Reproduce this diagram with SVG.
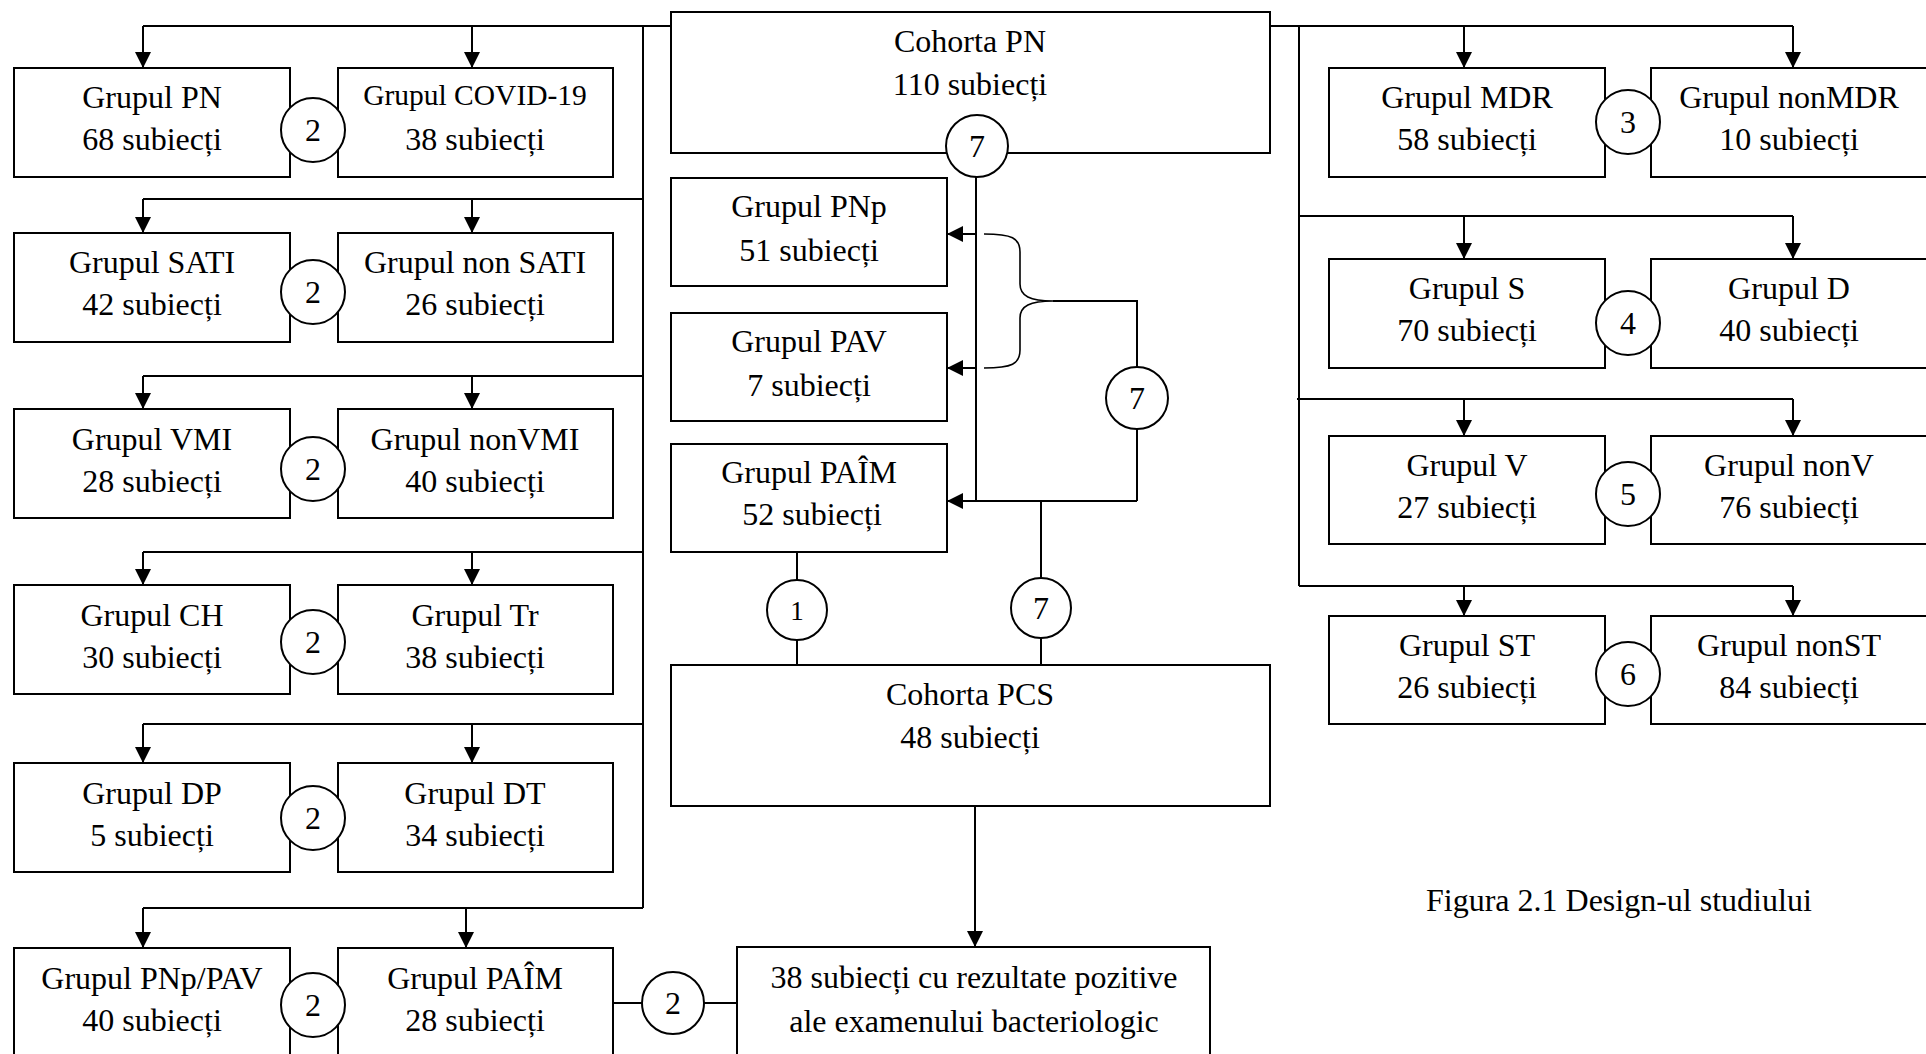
<svg xmlns="http://www.w3.org/2000/svg" width="1926" height="1054" viewBox="0 0 1926 1054">
<style>
.box{fill:#fff;stroke:#000;stroke-width:2}
.c{fill:#fff;stroke:#000;stroke-width:2}
.ln{fill:none;stroke:#000;stroke-width:2}
.br{fill:none;stroke:#000;stroke-width:1.6}
.ar{fill:none;stroke:#000;stroke-width:2;marker-end:url(#arr)}
text{font-family:"Liberation Serif","Times New Roman",serif;font-size:32px;fill:#000;text-anchor:middle}
.cap{text-anchor:start}
.sm{font-size:29.5px}
.one{font-size:27px}
</style>
<defs>
<marker id="arr" markerWidth="16" markerHeight="16" refX="16" refY="8" orient="auto" markerUnits="userSpaceOnUse">
<path d="M0,0 L16,8 L0,16 z" fill="#000"/>
</marker>
</defs>
<rect width="1926" height="1054" fill="#fff"/>

<g id="connectors">
<!-- left trunk -->
<path class="ln" d="M671,26 H143 M643,26 V908"/>
<path class="ar" d="M143,26 V68"/>
<path class="ar" d="M472,26 V68"/>
<path class="ln" d="M643,199 H143"/>
<path class="ar" d="M143,199 V233"/>
<path class="ar" d="M472,199 V233"/>
<path class="ln" d="M643,376 H143"/>
<path class="ar" d="M143,376 V409"/>
<path class="ar" d="M472,376 V409"/>
<path class="ln" d="M643,552 H143"/>
<path class="ar" d="M143,552 V585"/>
<path class="ar" d="M472,552 V585"/>
<path class="ln" d="M643,724 H143"/>
<path class="ar" d="M143,724 V763"/>
<path class="ar" d="M472,724 V763"/>
<path class="ln" d="M643,908 H143"/>
<path class="ar" d="M143,908 V948"/>
<path class="ar" d="M466,908 V948"/>
<!-- right trunk -->
<path class="ln" d="M1269,26 H1793 M1299,26 V586"/>
<path class="ar" d="M1464,26 V68"/>
<path class="ar" d="M1793,26 V68"/>
<path class="ln" d="M1299,216 H1793"/>
<path class="ar" d="M1464,216 V259"/>
<path class="ar" d="M1793,216 V259"/>
<path class="ln" d="M1297,399 H1793"/>
<path class="ar" d="M1464,399 V436"/>
<path class="ar" d="M1793,399 V436"/>
<path class="ln" d="M1299,586 H1793"/>
<path class="ar" d="M1464,586 V616"/>
<path class="ar" d="M1793,586 V616"/>
<!-- center -->
<path class="ln" d="M976,177 V501"/>
<path class="ar" d="M976,234 H947"/>
<path class="ar" d="M976,368 H947"/>
<path class="ar" d="M1137,501 H947"/>
<path class="br" d="M984,234 C1012,234 1020,238 1020,252 L1020,284 C1020,296 1030,301 1053,301 C1030,301 1020,306 1020,318 L1020,350 C1020,364 1012,368 984,368"/>
<path class="ln" d="M1053,301 H1137 V368 M1137,428 V501"/>
<path class="ln" d="M1041,501 V578 M1041,638 V665"/>
<path class="ln" d="M797,552 V580 M797,640 V665"/>
<path class="ar" d="M975,806 V947"/>
<path class="ln" d="M613,1003 H642 M704,1003 H737"/>
</g>

<g id="n-pn"><rect class="box" x="14" y="68" width="276" height="109"/><text x="152" y="108">Grupul PN</text><text x="152" y="150">68 subiecți</text></g>
<g id="n-covid"><rect class="box" x="338" y="68" width="275" height="109"/><text class="sm" x="475" y="105">Grupul COVID-19</text><text x="475" y="150">38 subiecți</text></g>
<g id="n-sati"><rect class="box" x="14" y="233" width="276" height="109"/><text x="152" y="273">Grupul SATI</text><text x="152" y="315">42 subiecți</text></g>
<g id="n-nonsati"><rect class="box" x="338" y="233" width="275" height="109"/><text x="475" y="273">Grupul non SATI</text><text x="475" y="315">26 subiecți</text></g>
<g id="n-vmi"><rect class="box" x="14" y="409" width="276" height="109"/><text x="152" y="450">Grupul VMI</text><text x="152" y="492">28 subiecți</text></g>
<g id="n-nonvmi"><rect class="box" x="338" y="409" width="275" height="109"/><text x="475" y="450">Grupul nonVMI</text><text x="475" y="492">40 subiecți</text></g>
<g id="n-ch"><rect class="box" x="14" y="585" width="276" height="109"/><text x="152" y="626">Grupul CH</text><text x="152" y="668">30 subiecți</text></g>
<g id="n-tr"><rect class="box" x="338" y="585" width="275" height="109"/><text x="475" y="626">Grupul Tr</text><text x="475" y="668">38 subiecți</text></g>
<g id="n-dp"><rect class="box" x="14" y="763" width="276" height="109"/><text x="152" y="804">Grupul DP</text><text x="152" y="846">5 subiecți</text></g>
<g id="n-dt"><rect class="box" x="338" y="763" width="275" height="109"/><text x="475" y="804">Grupul DT</text><text x="475" y="846">34 subiecți</text></g>
<g id="n-pnppav"><rect class="box" x="14" y="948" width="276" height="120"/><text x="152" y="989">Grupul PNp/PAV</text><text x="152" y="1031">40 subiecți</text></g>
<g id="n-paim2"><rect class="box" x="338" y="948" width="275" height="120"/><text x="475" y="989">Grupul PAÎM</text><text x="475" y="1031">28 subiecți</text></g>

<g id="n-cohortapn"><rect class="box" x="671" y="12" width="599" height="141"/><text x="970" y="52">Cohorta PN</text><text x="970" y="95">110 subiecți</text></g>
<g id="n-pnp"><rect class="box" x="671" y="178" width="276" height="108"/><text x="809" y="217">Grupul PNp</text><text x="809" y="261">51 subiecți</text></g>
<g id="n-pav"><rect class="box" x="671" y="313" width="276" height="108"/><text x="809" y="352">Grupul PAV</text><text x="809" y="396">7 subiecți</text></g>
<g id="n-paim"><rect class="box" x="671" y="444" width="276" height="108"/><text x="809" y="483">Grupul PAÎM</text><text x="812" y="525">52 subiecți</text></g>
<g id="n-pcs"><rect class="box" x="671" y="665" width="599" height="141"/><text x="970" y="705">Cohorta PCS</text><text x="970" y="748">48 subiecți</text></g>
<g id="n-pos"><rect class="box" x="737" y="947" width="473" height="120"/><text x="974" y="988">38 subiecți cu rezultate pozitive</text><text x="974" y="1032">ale examenului bacteriologic</text></g>

<g id="n-mdr"><rect class="box" x="1329" y="68" width="276" height="109"/><text x="1467" y="108">Grupul MDR</text><text x="1467" y="150">58 subiecți</text></g>
<g id="n-nonmdr"><rect class="box" x="1651" y="68" width="276" height="109"/><text x="1789" y="108">Grupul nonMDR</text><text x="1789" y="150">10 subiecți</text></g>
<g id="n-s"><rect class="box" x="1329" y="259" width="276" height="109"/><text x="1467" y="299">Grupul S</text><text x="1467" y="341">70 subiecți</text></g>
<g id="n-d"><rect class="box" x="1651" y="259" width="276" height="109"/><text x="1789" y="299">Grupul D</text><text x="1789" y="341">40 subiecți</text></g>
<g id="n-v"><rect class="box" x="1329" y="436" width="276" height="108"/><text x="1467" y="476">Grupul V</text><text x="1467" y="518">27 subiecți</text></g>
<g id="n-nonv"><rect class="box" x="1651" y="436" width="276" height="108"/><text x="1789" y="476">Grupul nonV</text><text x="1789" y="518">76 subiecți</text></g>
<g id="n-st"><rect class="box" x="1329" y="616" width="276" height="108"/><text x="1467" y="656">Grupul ST</text><text x="1467" y="698">26 subiecți</text></g>
<g id="n-nonst"><rect class="box" x="1651" y="616" width="276" height="108"/><text x="1789" y="656">Grupul nonST</text><text x="1789" y="698">84 subiecți</text></g>

<g id="markers">
<circle class="c" cx="313" cy="130" r="32"/><text x="313" y="141">2</text>
<circle class="c" cx="313" cy="292" r="32"/><text x="313" y="303">2</text>
<circle class="c" cx="313" cy="469" r="32"/><text x="313" y="480">2</text>
<circle class="c" cx="313" cy="642" r="32"/><text x="313" y="653">2</text>
<circle class="c" cx="313" cy="818" r="32"/><text x="313" y="829">2</text>
<circle class="c" cx="313" cy="1005" r="32"/><text x="313" y="1016">2</text>
<circle class="c" cx="673" cy="1003" r="31"/><text x="673" y="1014">2</text>
<circle class="c" cx="977" cy="146" r="31"/><text x="977" y="157">7</text>
<circle class="c" cx="1137" cy="398" r="31"/><text x="1137" y="409">7</text>
<circle class="c" cx="1041" cy="608" r="30"/><text x="1041" y="619">7</text>
<circle class="c" cx="797" cy="610" r="30"/><text class="one" x="797" y="620">1</text>
<circle class="c" cx="1628" cy="122" r="32"/><text x="1628" y="133">3</text>
<circle class="c" cx="1628" cy="323" r="32"/><text x="1628" y="334">4</text>
<circle class="c" cx="1628" cy="494" r="32"/><text x="1628" y="505">5</text>
<circle class="c" cx="1628" cy="674" r="32"/><text x="1628" y="685">6</text>
</g>

<text class="cap" x="1426" y="911">Figura 2.1 Design-ul studiului</text>
</svg>
